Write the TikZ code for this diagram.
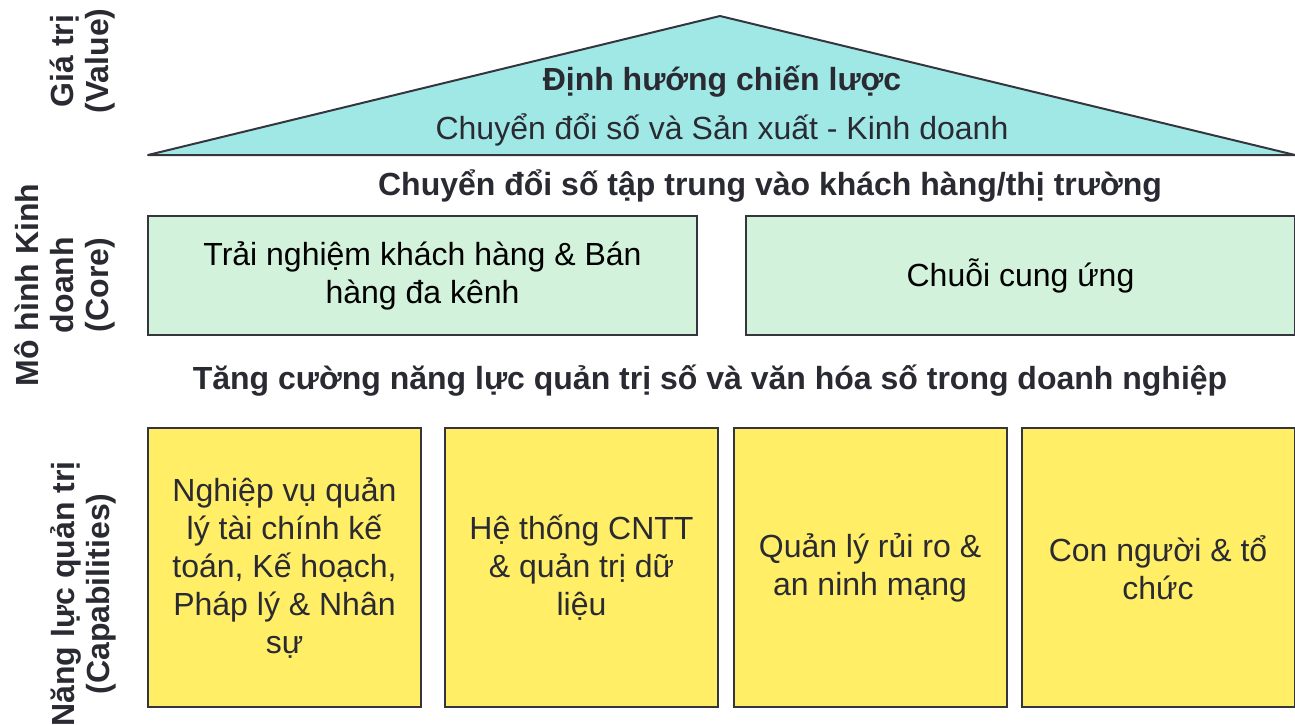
\documentclass[tikz,border=0pt]{standalone}
\usepackage{fontspec}
\setmainfont{Liberation Sans}
\usepackage{xcolor}
\usetikzlibrary{positioning}
\definecolor{roofcyan}{HTML}{A0E8E6}
\definecolor{coregreen}{HTML}{D2F2DC}
\definecolor{capyellow}{HTML}{FFEE66}
\definecolor{edgegray}{HTML}{35353D}
\definecolor{inkgray}{HTML}{2A2A33}
\tikzset{
    corebox/.style={
        draw=edgegray,
        line width=1pt,
        fill=coregreen,
        minimum width=274.5pt,
        minimum height=59.5pt,
        align=center,
        text=black,
        font=\fontsize{16}{19}\selectfont,
    },
    capbox/.style={
        draw=edgegray,
        line width=1pt,
        fill=capyellow,
        minimum width=136.5pt,
        minimum height=139.5pt,
        align=center,
        text=inkgray,
        font=\fontsize{16}{19}\selectfont,
    },
    heading/.style={
        text=inkgray,
        font=\bfseries\fontsize{16}{19}\selectfont,
    },
    sidelabel/.style={
        rotate=90,
        align=center,
        text=inkgray,
        font=\bfseries\fontsize{16}{17.5}\selectfont,
    },
}

\begin{document}
\begin{tikzpicture}[x=0.5pt, y=-0.5pt]
      \useasboundingbox (0,0) rectangle (1295,724);

      % roof
      \filldraw[fill=roofcyan, draw=edgegray, line width=1pt, line join=round]
        (148,155) -- (720,16) -- (1295,155) -- cycle;
      \node[heading] (goal) at (722,82) {Định hướng chiến lược};
      \node[text=inkgray, font=\fontsize{16}{19}\selectfont] (goalsub) at (722,130)
        {Chuyển đổi số và Sản xuất - Kinh doanh};

      % core
      \node[heading] (coretitle) at (770,186) {Chuyển đổi số tập trung vào khách hàng/thị trường};
      \node[corebox] (cx) at (422.5,275.5) {Trải nghiệm khách hàng \& Bán\\hàng đa kênh};
      \node[corebox] (supply) at (1020.5,275.5) {Chuỗi cung ứng};

      % capabilities
      \node[heading] (captitle) at (710,381) {Tăng cường năng lực quản trị số và văn hóa số trong doanh nghiệp};
      \node[capbox] (cap1) at (284.5,567.5) {Nghiệp vụ quản\\lý tài chính kế\\toán, Kế hoạch,\\Pháp lý \& Nhân\\sự};
      \node[capbox] (cap2) at (581.5,567.5) {Hệ thống CNTT\\\& quản trị dữ\\liệu};
      \node[capbox] (cap3) at (870,567.5) {Quản lý rủi ro \&\\an ninh mạng};
      \node[capbox] (cap4) at (1158,567.5) {Con người \& tổ\\chức};

      % side labels
      \node[sidelabel] (valuelbl) at (83,61) {Giá trị\\(Value)};
      \node[sidelabel] (corelbl) at (65,285) {Mô hình Kinh\\doanh\\(Core)};
      \node[sidelabel] (caplbl) at (83,594) {Năng lực quản trị\\(Capabilities)};

    \end{tikzpicture}
\end{document}
